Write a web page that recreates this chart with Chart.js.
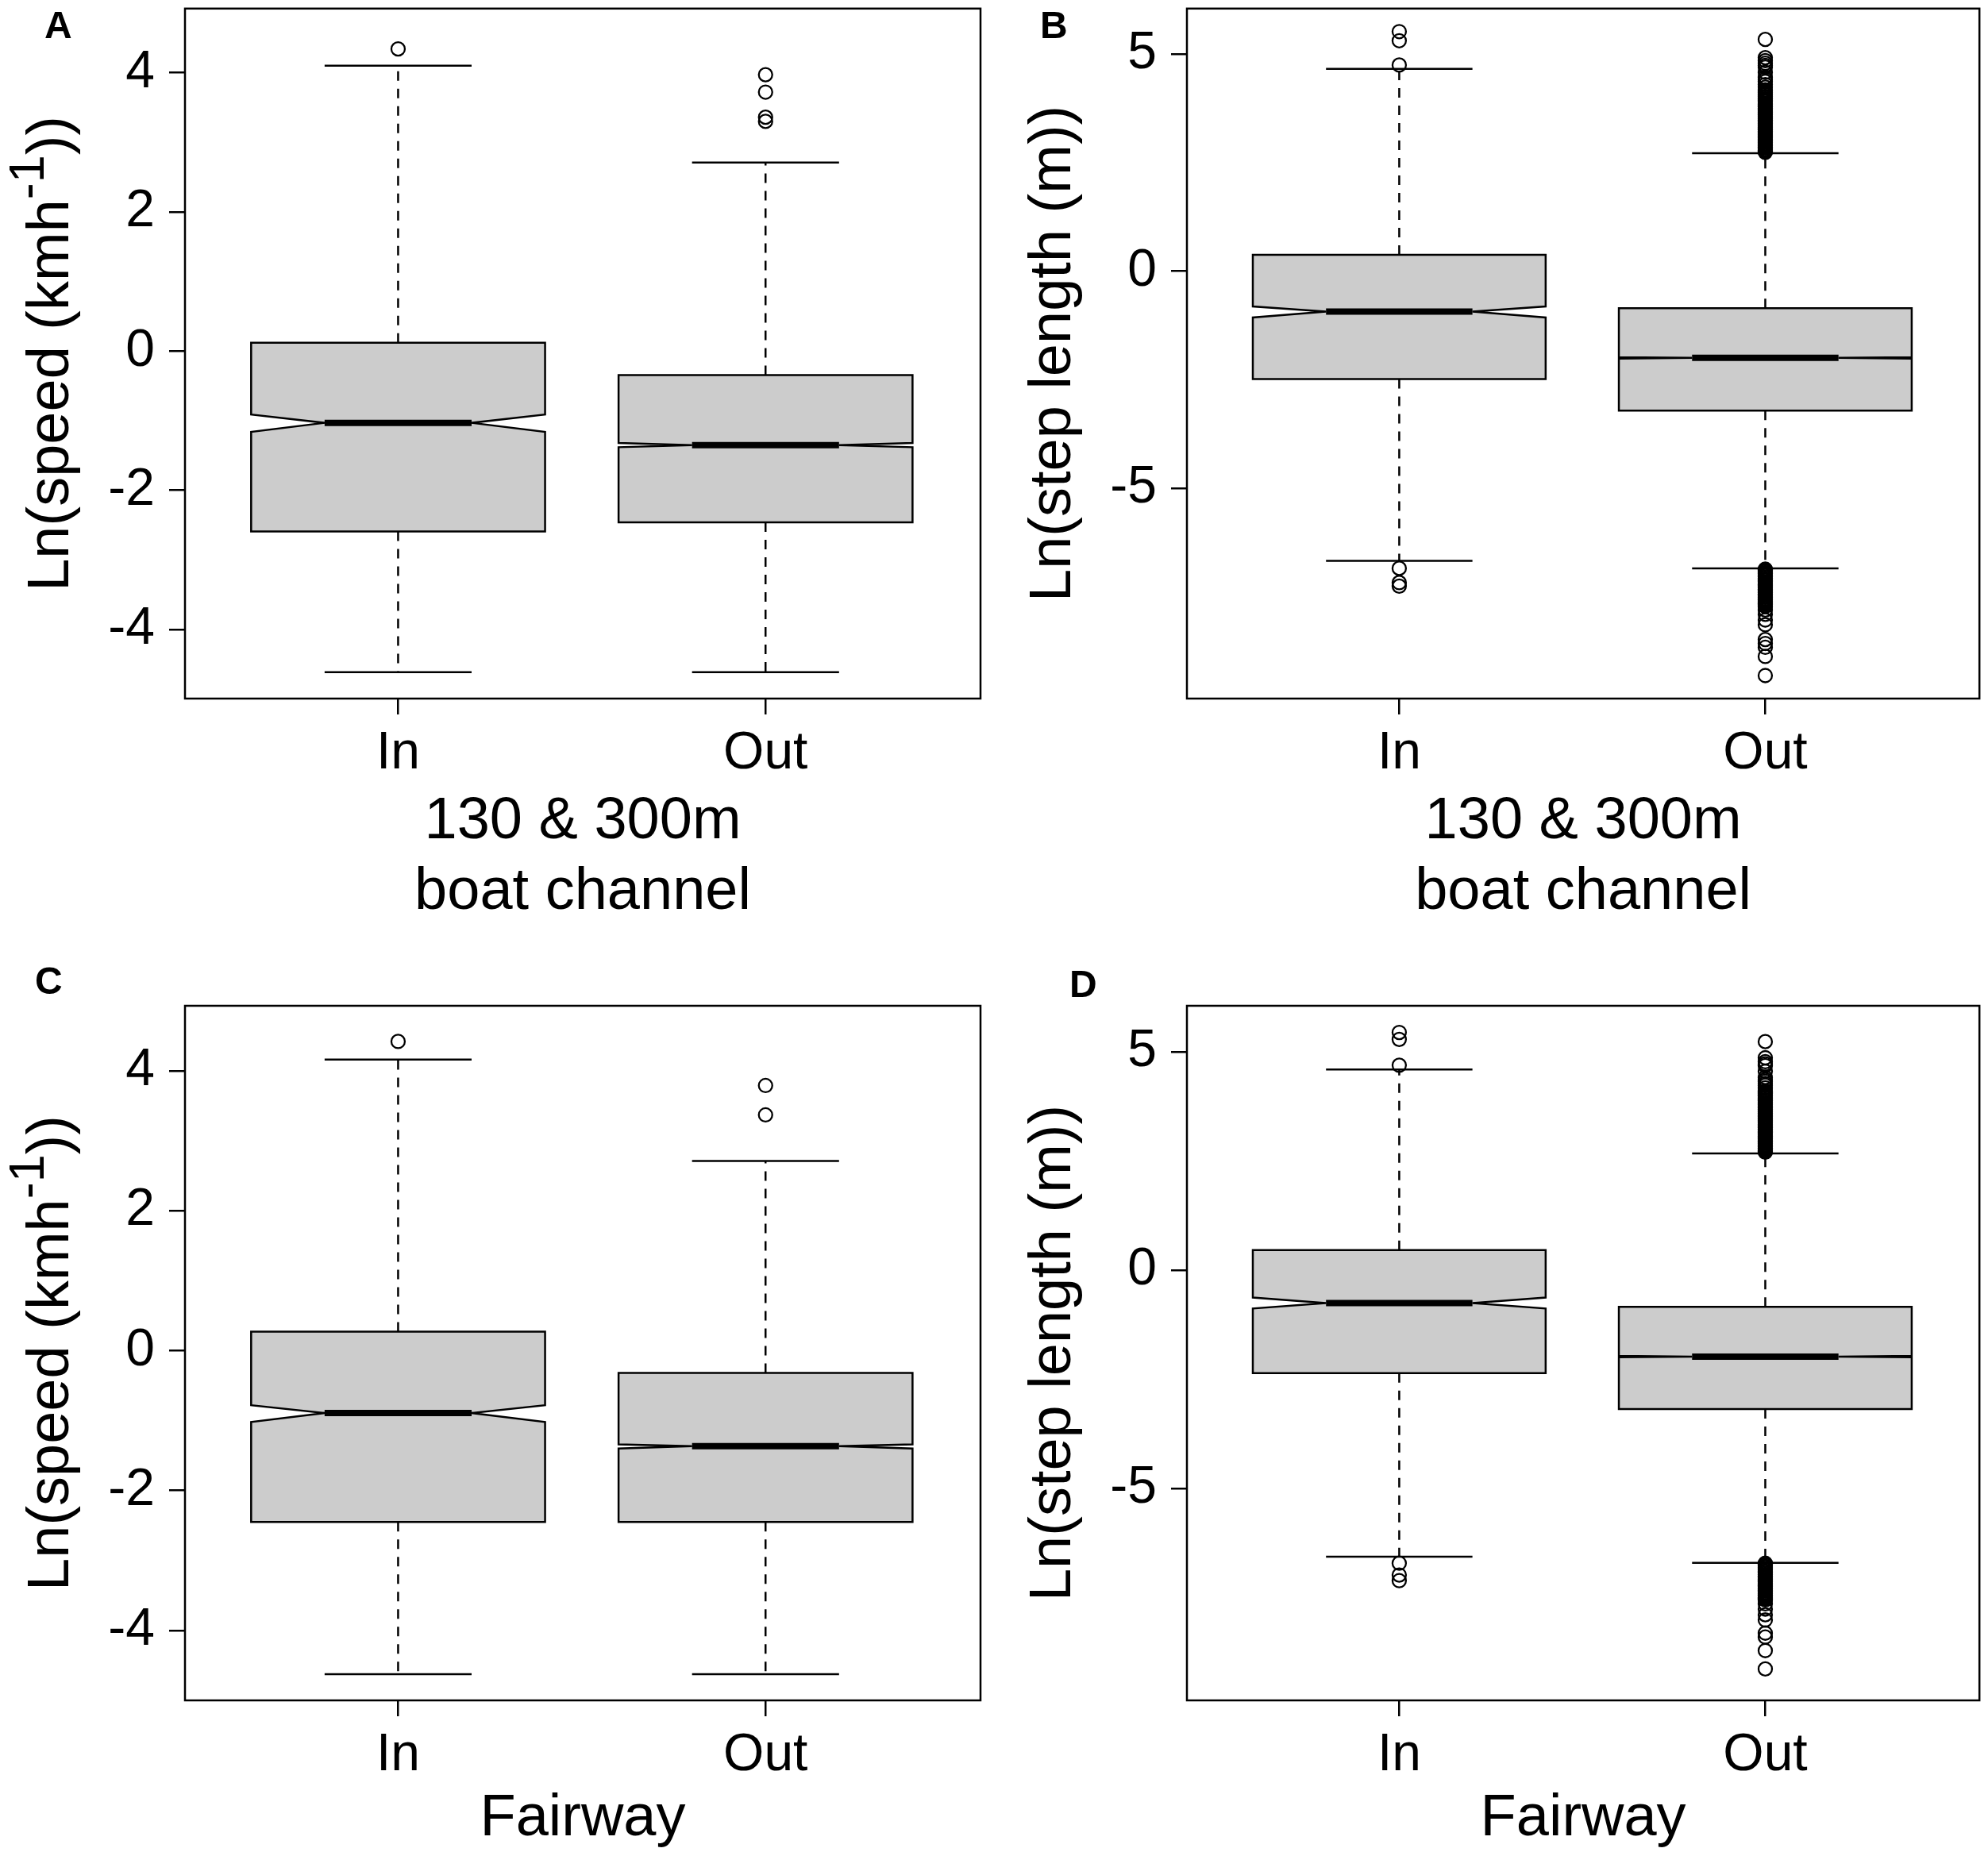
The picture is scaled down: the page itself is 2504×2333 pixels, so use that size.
<!DOCTYPE html>
<html>
<head>
<meta charset="utf-8">
<script src="https://cdn.jsdelivr.net/npm/chart.js@4.4.1/dist/chart.umd.min.js"></script>
<style>
  html, body { margin: 0; padding: 0; background: #fff; }
  #wrap { position: relative; width: 2504px; height: 2333px; }
  canvas { position: absolute; }
</style>
</head>
<body>
<div id="wrap">
  <canvas id="panelA" width="1252" height="1166" style="left:0px;top:0px"></canvas>
  <canvas id="panelB" width="1252" height="1166" style="left:1252px;top:0px"></canvas>
  <canvas id="panelC" width="1252" height="1167" style="left:0px;top:1166px"></canvas>
  <canvas id="panelD" width="1252" height="1167" style="left:1252px;top:1166px"></canvas>
</div>
<script>
const groups = ["In", "Out"];
const speedTicks = [-4, -2, 0, 2, 4];
const stepTicks = [-5, 0, 5];

// box stats: [lower whisker, Q1, notch low, median, notch high, Q3, upper whisker]
const boatSpeedIn  = [-4.61, -2.59, -1.16, -1.03, -0.91, 0.12, 4.10];
const boatSpeedOut = [-4.61, -2.46, -1.38, -1.35, -1.32, -0.345, 2.71];
const boatSpeedInOutliers  = [4.34];
const boatSpeedOutOutliers = [3.97, 3.72, 3.36, 3.30];

const boatStepIn  = [-6.67, -2.48, -1.065, -0.93, -0.81, 0.377, 4.66];
const boatStepOut = [-6.84, -3.21, -2.01, -1.995, -1.98, -0.85, 2.72];
const boatStepInOutliers = [5.52, 5.31, 4.75, -6.84, -7.17, -7.25];
const boatStepOutOutliers = [
  5.34, 4.92, 4.85, 4.79, 4.74, 4.70, 4.58, 4.47, 4.42, 4.37, 4.30, 4.24,
  4.18, 4.15, 4.12, 4.09, 4.06, 4.03, 4.00, 3.97, 3.94, 3.91, 3.87, 3.84, 3.81,
  3.79, 3.75, 3.72, 3.69, 3.66, 3.63, 3.61, 3.58, 3.55, 3.52, 3.48, 3.46, 3.43,
  3.40, 3.37, 3.34, 3.31, 3.28, 3.26, 3.22, 3.19, 3.16, 3.14, 3.11, 3.08, 3.05,
  3.03, 3.00, 2.97, 2.94, 2.92, 2.89, 2.86, 2.84, 2.81, 2.79, 2.77, 2.76, 2.74,
  -6.86, -6.87, -6.89, -6.91, -6.94, -6.96, -6.99, -7.01, -7.04, -7.07, -7.10,
  -7.12, -7.15, -7.18, -7.21, -7.23, -7.26, -7.29, -7.32, -7.34, -7.37, -7.40,
  -7.43, -7.45, -7.48, -7.51, -7.54, -7.56, -7.59, -7.62, -7.65, -7.67, -7.70, -7.72,
  -7.80, -7.90, -8.03, -8.14, -8.48, -8.57, -8.66, -8.87, -9.31
];

const fairSpeedIn  = [-4.625, -2.45, -1.02, -0.893, -0.78, 0.27, 4.16];
const fairSpeedOut = [-4.625, -2.45, -1.40, -1.365, -1.34, -0.32, 2.71];
const fairSpeedInOutliers  = [4.42];
const fairSpeedOutOutliers = [3.79, 3.37];

const fairStepIn  = [-6.56, -2.36, -0.88, -0.756, -0.63, 0.46, 4.59];
const fairStepOut = [-6.70, -3.18, -1.995, -1.98, -1.965, -0.84, 2.67];
const fairStepInOutliers = [5.44, 5.28, 4.69, -6.71, -6.98, -7.11];
const fairStepOutOutliers = [
  5.23, 4.86, 4.77, 4.72, 4.68, 4.55, 4.41, 4.36, 4.32, 4.27, 4.23, 4.17,
  4.10, 4.08, 4.06, 4.04, 4.01, 3.99, 3.96, 3.93, 3.90, 3.88, 3.85, 3.82, 3.79,
  3.76, 3.73, 3.71, 3.68, 3.65, 3.62, 3.59, 3.56, 3.54, 3.51, 3.48, 3.45, 3.43,
  3.40, 3.37, 3.34, 3.31, 3.28, 3.26, 3.23, 3.20, 3.17, 3.15, 3.12, 3.09, 3.06,
  3.04, 3.01, 2.98, 2.95, 2.93, 2.90, 2.87, 2.84, 2.82, 2.79, 2.77, 2.74, 2.72, 2.70,
  -6.71, -6.73, -6.75, -6.78, -6.80, -6.83, -6.86, -6.89, -6.91, -6.94, -6.97,
  -7.00, -7.02, -7.05, -7.08, -7.11, -7.13, -7.16, -7.19, -7.22, -7.24, -7.27,
  -7.30, -7.33, -7.35, -7.38, -7.41, -7.44, -7.46, -7.49, -7.51, -7.53, -7.55,
  -7.64, -7.76, -7.89, -8.01, -8.31, -8.40, -8.71, -9.13
];

const FONT = "'Liberation Sans', Arial, Helvetica, sans-serif";
const LW = 2.5;

// draws a run of text pieces, some of them superscript, centred on cx
function drawRich(ctx, parts, size, cx, baseY) {
  const widths = parts.map(p => {
    ctx.font = (p.sup ? size * 0.85 : size) + "px " + FONT;
    return ctx.measureText(p.text).width;
  });
  let x = cx - widths.reduce((a, b) => a + b, 0) / 2;
  parts.forEach((p, i) => {
    ctx.font = (p.sup ? size * 0.85 : size) + "px " + FONT;
    ctx.fillText(p.text, x, p.sup ? baseY - size * 0.42 : baseY);
    x += widths[i];
  });
}

const notchedBoxes = {
  id: "notchedBoxes",
  beforeDatasetsDraw(chart, args, opts) {
    const { ctx, scales: { x, y } } = chart;
    const w = opts.boxWidth;
    opts.boxes.forEach((b, i) => {
      const pos = i + 1;
      const [lo, q1, nLo, med, nHi, q3, hi] = b;
      const xl = x.getPixelForValue(pos - w / 2);
      const xr = x.getPixelForValue(pos + w / 2);
      const xil = x.getPixelForValue(pos - w / 4);
      const xir = x.getPixelForValue(pos + w / 4);
      const xc = x.getPixelForValue(pos);
      ctx.save();
      ctx.strokeStyle = "#000";
      ctx.lineWidth = LW;

      // whiskers
      ctx.setLineDash([12, 10]);
      ctx.beginPath();
      ctx.moveTo(xc, y.getPixelForValue(q3));
      ctx.lineTo(xc, y.getPixelForValue(hi));
      ctx.moveTo(xc, y.getPixelForValue(q1));
      ctx.lineTo(xc, y.getPixelForValue(lo));
      ctx.stroke();
      ctx.setLineDash([]);

      // staples
      ctx.beginPath();
      ctx.moveTo(xil, y.getPixelForValue(hi));
      ctx.lineTo(xir, y.getPixelForValue(hi));
      ctx.moveTo(xil, y.getPixelForValue(lo));
      ctx.lineTo(xir, y.getPixelForValue(lo));
      ctx.stroke();

      // notched box
      ctx.beginPath();
      ctx.moveTo(xl, y.getPixelForValue(q1));
      ctx.lineTo(xl, y.getPixelForValue(nLo));
      ctx.lineTo(xil, y.getPixelForValue(med));
      ctx.lineTo(xl, y.getPixelForValue(nHi));
      ctx.lineTo(xl, y.getPixelForValue(q3));
      ctx.lineTo(xr, y.getPixelForValue(q3));
      ctx.lineTo(xr, y.getPixelForValue(nHi));
      ctx.lineTo(xir, y.getPixelForValue(med));
      ctx.lineTo(xr, y.getPixelForValue(nLo));
      ctx.lineTo(xr, y.getPixelForValue(q1));
      ctx.closePath();
      ctx.fillStyle = "#cccccc";
      ctx.fill();
      ctx.stroke();

      // median
      ctx.lineWidth = 8;
      ctx.lineCap = "butt";
      ctx.beginPath();
      ctx.moveTo(xil, y.getPixelForValue(med));
      ctx.lineTo(xir, y.getPixelForValue(med));
      ctx.stroke();
      ctx.restore();
    });
  },
  afterDraw(chart, args, opts) {
    const { ctx, chartArea: a } = chart;
    ctx.save();
    ctx.strokeStyle = "#000";
    ctx.lineWidth = LW;
    ctx.strokeRect(a.left, a.top, a.right - a.left, a.bottom - a.top);

    ctx.fillStyle = "#000";
    ctx.textBaseline = "alphabetic";
    ctx.textAlign = "left";

    // x title
    const cx = (a.left + a.right) / 2;
    opts.xTitle.forEach((line, i) => {
      drawRich(ctx, [{ text: line }], 74, cx, a.bottom + opts.xTitleOffsets[i]);
    });

    // y title, rotated
    ctx.save();
    ctx.translate(a.left - 147, (a.top + a.bottom) / 2);
    ctx.rotate(-Math.PI / 2);
    drawRich(ctx, opts.yTitle, 74, 0, 0);
    ctx.restore();

    // panel letter
    ctx.font = "bold 48px " + FONT;
    ctx.fillText(opts.letter, opts.letterPos[0], opts.letterPos[1]);
    ctx.restore();
  }
};

function makePanel(id, cfg) {
  const canvas = document.getElementById(id);
  const W = canvas.width, H = canvas.height;
  const area = cfg.area;
  const points = cfg.inOutliers.map(v => ({ x: 1, y: v }))
    .concat(cfg.outOutliers.map(v => ({ x: 2, y: v })));
  const tickFont = { family: FONT, size: 66 };
  const grid = { display: true, drawOnChartArea: false, drawTicks: true, tickLength: 20, color: "#000", lineWidth: LW };

  new Chart(canvas, {
    type: "scatter",
    data: {
      datasets: [{
        data: points,
        pointRadius: 8.5,
        pointHoverRadius: 8.5,
        pointBorderWidth: 2.3,
        pointBorderColor: "#000",
        pointBackgroundColor: "rgba(0,0,0,0)"
      }]
    },
    options: {
      responsive: false,
      animation: false,
      devicePixelRatio: 1,
      events: [],
      layout: { padding: { left: 0, top: area[1], right: W - area[2], bottom: 0 } },
      plugins: {
        legend: { display: false },
        tooltip: { enabled: false },
        notchedBoxes: {
          boxes: cfg.boxes,
          boxWidth: 0.8,
          xTitle: cfg.xTitle,
          xTitleOffsets: cfg.xTitleOffsets,
          yTitle: cfg.yTitle,
          letter: cfg.letter,
          letterPos: cfg.letterPos
        }
      },
      scales: {
        x: {
          type: "linear",
          min: 0.42,
          max: 2.585,
          afterBuildTicks: s => { s.ticks = groups.map((g, i) => ({ value: i + 1 })); },
          afterFit: s => {
            s.height = H - area[3];
            s.paddingLeft = s.paddingRight = s.paddingTop = s.paddingBottom = 0;
          },
          ticks: {
            autoSkip: false,
            maxRotation: 0,
            padding: 10,
            color: "#000",
            font: tickFont,
            callback: v => groups[v - 1]
          },
          grid: grid,
          border: { display: false }
        },
        y: {
          type: "linear",
          min: cfg.yRange[0],
          max: cfg.yRange[1],
          afterBuildTicks: s => { s.ticks = cfg.ticks.map(v => ({ value: v })); },
          afterFit: s => {
            s.width = area[0];
            s.paddingLeft = s.paddingRight = s.paddingTop = s.paddingBottom = 0;
          },
          ticks: {
            autoSkip: false,
            padding: 18,
            color: "#000",
            font: tickFont,
            callback: v => String(v)
          },
          grid: grid,
          border: { display: false }
        }
      }
    },
    plugins: [notchedBoxes]
  });
}

const speedTitle = [{ text: "Ln(speed (kmh" }, { text: "-1", sup: true }, { text: "))" }];
const stepTitle = [{ text: "Ln(step length (m))" }];

makePanel("panelA", {
  area: [233, 6, 1235, 880],
  yRange: [-4.99, 4.92],
  ticks: speedTicks,
  boxes: [boatSpeedIn, boatSpeedOut],
  inOutliers: boatSpeedInOutliers,
  outOutliers: boatSpeedOutOutliers,
  xTitle: ["130 & 300m", "boat channel"],
  xTitleOffsets: [176, 265],
  yTitle: speedTitle,
  letter: "A",
  letterPos: [56, 48]
});

makePanel("panelB", {
  area: [243, 6, 1245, 880],
  yRange: [-9.84, 6.05],
  ticks: stepTicks,
  boxes: [boatStepIn, boatStepOut],
  inOutliers: boatStepInOutliers,
  outOutliers: boatStepOutOutliers,
  xTitle: ["130 & 300m", "boat channel"],
  xTitleOffsets: [176, 265],
  yTitle: stepTitle,
  letter: "B",
  letterPos: [58, 48]
});

makePanel("panelC", {
  area: [233, 101, 1235, 976],
  yRange: [-5.0, 4.93],
  ticks: speedTicks,
  boxes: [fairSpeedIn, fairSpeedOut],
  inOutliers: fairSpeedInOutliers,
  outOutliers: fairSpeedOutOutliers,
  xTitle: ["Fairway"],
  xTitleOffsets: [170],
  yTitle: speedTitle,
  letter: "C",
  letterPos: [44, 86]
});

makePanel("panelD", {
  area: [243, 101, 1245, 976],
  yRange: [-9.85, 6.05],
  ticks: stepTicks,
  boxes: [fairStepIn, fairStepOut],
  inOutliers: fairStepInOutliers,
  outOutliers: fairStepOutOutliers,
  xTitle: ["Fairway"],
  xTitleOffsets: [170],
  yTitle: stepTitle,
  letter: "D",
  letterPos: [95, 90]
});
</script>
</body>
</html>
